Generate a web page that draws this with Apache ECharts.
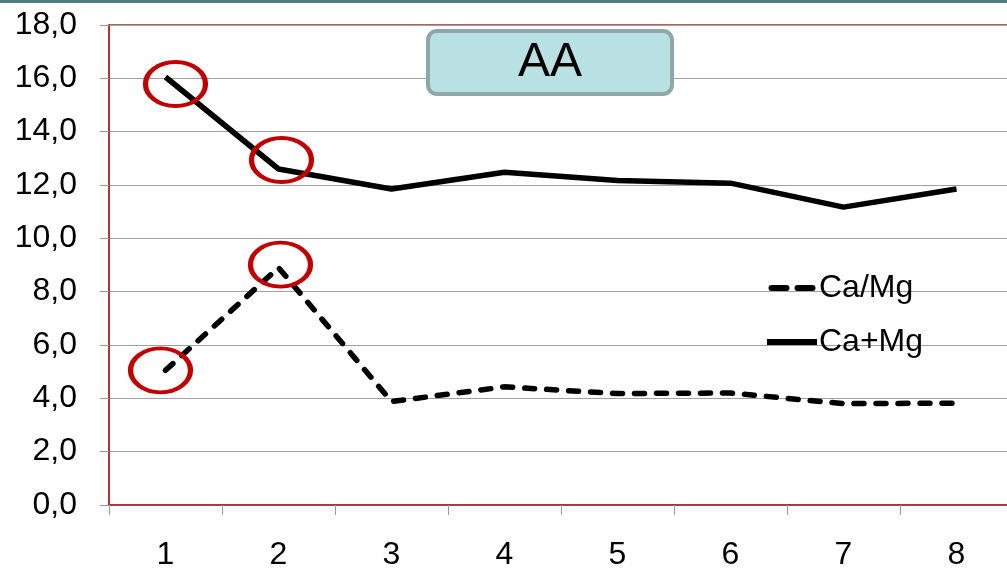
<!DOCTYPE html>
<html>
<head>
<meta charset="utf-8">
<style>
html,body{margin:0;padding:0;background:#fff;}
#main{width:1007px;height:573px;}
</style>
<script src="https://cdn.jsdelivr.net/npm/echarts@6/dist/echarts.min.js"></script>
</head>
<body>
<div id="main"></div>
<script>
var categories = ['1','2','3','4','5','6','7','8'];
var caMgRatio = [5.05, 8.9, 3.88, 4.43, 4.18, 4.2, 3.8, 3.82];
var caPlusMg = [16.05, 12.6, 11.85, 12.48, 12.17, 12.07, 11.17, 11.85];
var yTicks = [0, 2, 4, 6, 8, 10, 12, 14, 16, 18];
var seriesNames = ['Ca/Mg', 'Ca+Mg'];
var titleText = 'AA';
// highlighted points (category index)
var circledRatio = [0, 1];
var circledSum = [0, 1];

var FONT = 'Liberation Sans, Arial, sans-serif';
var RED = '#c00000';
var circleStyle = {color: 'rgba(0,0,0,0)', borderColor: RED, borderWidth: 4.5};

function circles(idx, data, offsets) {
  return idx.map(function (i, k) {
    return {coord: [i, data[i]], symbolOffset: offsets[k]};
  });
}

var chart = echarts.init(document.getElementById('main'), null, {renderer: 'canvas'});
chart.setOption({
  backgroundColor: '#fff',
  animation: false,
  textStyle: {fontFamily: FONT},
  title: {
    text: titleText,
    left: 428,
    top: 31,
    padding: [8, 90, 7, 90],
    backgroundColor: '#b9e0e3',
    borderColor: '#8ea8aa',
    borderWidth: 4,
    borderRadius: 9,
    textStyle: {fontFamily: FONT, fontSize: 48, fontWeight: 'normal', color: '#000', lineHeight: 48}
  },
  legend: {
    orient: 'vertical',
    left: 762,
    top: 267,
    itemWidth: 50,
    itemHeight: 6,
    itemGap: 22,
    textStyle: {fontFamily: FONT, fontSize: 32, color: '#000', padding: [0, 0, 0, -3]},
    data: [
      {name: seriesNames[0], icon: 'path://M3,0h15a3,3 0 0 1 0,6h-15a3,3 0 0 1 0,-6z M29,0h15a3,3 0 0 1 0,6h-15a3,3 0 0 1 0,-6z', itemStyle: {color: '#000'}},
      {name: seriesNames[1], icon: 'rect', itemStyle: {color: '#000'}}
    ]
  },
  graphic: [{
    type: 'rect', left: 0, top: 0, shape: {width: 1007, height: 3},
    style: {fill: '#4f7d7f'}, silent: true
  }],
  grid: {
    left: 109, top: 25, width: 904, bottom: 68,
    outerBoundsMode: 'none',
    containLabel: false,
    show: true, borderColor: '#a8282a', borderWidth: 1.5, backgroundColor: '#fff'
  },
  xAxis: {
    type: 'category',
    data: categories,
    boundaryGap: true,
    axisLine: {lineStyle: {color: '#a8282a', width: 1.5}},
    axisTick: {show: true, length: 10, lineStyle: {color: '#999', width: 1}},
    axisLabel: {fontFamily: FONT, fontSize: 32, color: '#000', margin: 34}
  },
  yAxis: {
    type: 'value',
    min: yTicks[0],
    max: yTicks[yTicks.length - 1],
    interval: yTicks[1] - yTicks[0],
    axisLine: {show: true, lineStyle: {color: '#a8282a', width: 1.5}},
    axisTick: {show: true, length: 9, lineStyle: {color: '#999', width: 1}},
    splitLine: {lineStyle: {color: '#a0a0a0', width: 1.2}},
    axisLabel: {
      fontFamily: FONT, fontSize: 32, color: '#000', margin: 32,
      formatter: function (v) { return v.toFixed(1).replace('.', ','); }
    }
  },
  series: [
    {
      name: seriesNames[0],
      type: 'line',
      data: caMgRatio,
      symbol: 'none',
      lineStyle: {color: '#000', width: 5.5, type: [10, 12], cap: 'round'},
      itemStyle: {color: '#000'},
      markPoint: {
        silent: true,
        symbol: 'circle',
        symbolSize: [60, 44],
        itemStyle: circleStyle,
        label: {show: false},
        data: circles(circledRatio, caMgRatio, [[-5, 0], [2, -3]])
      }
    },
    {
      name: seriesNames[1],
      type: 'line',
      data: caPlusMg,
      symbol: 'none',
      lineStyle: {color: '#000', width: 5.5, type: 'solid'},
      itemStyle: {color: '#000'},
      markPoint: {
        silent: true,
        symbol: 'circle',
        symbolSize: [60, 44],
        itemStyle: circleStyle,
        label: {show: false},
        data: circles(circledSum, caPlusMg, [[10, 7], [3, -9]])
      }
    }
  ]
});
</script>
</body>
</html>
